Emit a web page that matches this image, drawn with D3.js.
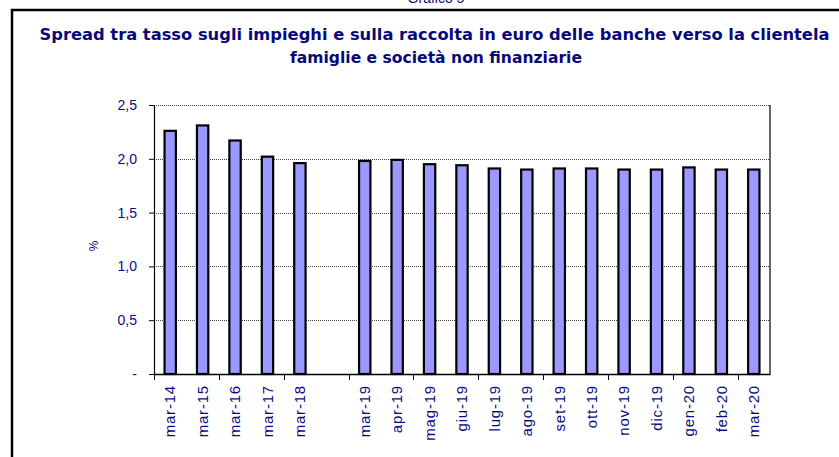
<!DOCTYPE html>
<html>
<head>
<meta charset="utf-8">
<script src="https://cdn.jsdelivr.net/npm/d3@7"></script>
<style>
  body { margin: 0; background: #fff; }
  svg { display: block; }
</style>
</head>
<body>
<svg id="chart" width="839" height="457"></svg>
<script>
// one empty slot between mar-18 and mar-19, as in the original
var categories = ['mar-14', 'mar-15', 'mar-16', 'mar-17', 'mar-18', '',
  'mar-19', 'apr-19', 'mag-19', 'giu-19', 'lug-19', 'ago-19', 'set-19',
  'ott-19', 'nov-19', 'dic-19', 'gen-20', 'feb-20', 'mar-20'];
var spread = [2.26, 2.31, 2.17, 2.02, 1.96, null,
  1.98, 1.99, 1.95, 1.94, 1.91, 1.90, 1.91,
  1.91, 1.90, 1.90, 1.92, 1.90, 1.90];
var yTicks = [0, 0.5, 1.0, 1.5, 2.0, 2.5];

var navy = '#0b0b80';
var svg = d3.select('#chart');

// outer frame
svg.append('rect')
  .attr('x', 12).attr('y', 10)
  .attr('width', 900).attr('height', 500)
  .attr('fill', 'none')
  .attr('stroke', '#000')
  .attr('stroke-width', 2.5);

svg.append('text')
  .attr('x', 436).attr('y', 3)
  .attr('text-anchor', 'middle')
  .attr('font-family', 'Liberation Sans, Arial, sans-serif')
  .attr('font-size', 14)
  .attr('fill', navy)
  .text('Grafico 5');

// title
var title = svg.append('g')
  .attr('font-family', 'DejaVu Sans, Verdana, sans-serif')
  .attr('font-weight', 'bold')
  .attr('font-size', 15)
  .attr('fill', '#08087a')
  .attr('text-anchor', 'middle');
title.append('text')
  .attr('x', 434.5).attr('y', 40)
  .attr('textLength', 790).attr('lengthAdjust', 'spacingAndGlyphs')
  .text('Spread tra tasso sugli impieghi e sulla raccolta in euro delle banche verso la clientela');
title.append('text')
  .attr('x', 436).attr('y', 63)
  .attr('textLength', 292).attr('lengthAdjust', 'spacingAndGlyphs')
  .text('famiglie e società non finanziarie');

var plotL = 154, plotR = 770, plotT = 105, plotB = 374;

var x = d3.scaleBand()
  .domain(d3.range(categories.length))
  .range([plotL, plotR])
  .padding(0);

var y = d3.scaleLinear()
  .domain([0, 2.5])
  .range([plotB, plotT]);

// dotted gridlines
svg.append('g')
  .selectAll('line')
  .data(yTicks.filter(function(d) { return d > 0; }))
  .enter()
  .append('line')
  .attr('x1', plotL).attr('x2', plotR)
  .attr('y1', function(d) { return Math.round(y(d)) + 0.5; })
  .attr('y2', function(d) { return Math.round(y(d)) + 0.5; })
  .attr('stroke', '#444')
  .attr('stroke-width', 1)
  .attr('stroke-dasharray', '1,1');

// right edge of the plot area
svg.append('line')
  .attr('x1', plotR).attr('x2', plotR)
  .attr('y1', y(2.5)).attr('y2', plotB)
  .attr('stroke', '#000')
  .attr('stroke-width', 1.2);

// bars
var bw = x.bandwidth() * 0.35;
svg.append('g')
  .selectAll('rect')
  .data(spread.map(function(v, i) { return { i: i, v: v }; })
    .filter(function(d) { return d.v != null; }))
  .enter()
  .append('rect')
  .attr('x', function(d) { return x(d.i) + (x.bandwidth() - bw) / 2; })
  .attr('y', function(d) { return y(d.v); })
  .attr('width', bw)
  .attr('height', function(d) { return plotB - y(d.v); })
  .attr('fill', '#9999ff')
  .attr('stroke', '#000')
  .attr('stroke-width', 2.2);

// y axis
var yAxis = svg.append('g')
  .attr('transform', 'translate(' + plotL + ',0)')
  .call(d3.axisLeft(y)
    .tickValues(yTicks)
    .tickSize(5)
    .tickSizeOuter(0)
    .tickPadding(12)
    .tickFormat(function(d) {
      return d === 0 ? '-' : d3.format('.1f')(d).replace('.', ',');
    }));
yAxis.select('.domain').attr('stroke', '#000').attr('stroke-width', 1.2);
yAxis.selectAll('.tick line').attr('stroke', '#000');
yAxis.selectAll('text')
  .attr('font-family', 'Liberation Sans, Arial, sans-serif')
  .attr('font-size', 14)
  .attr('fill', navy);

svg.append('text')
  .attr('transform', 'translate(98,246) rotate(-90)')
  .attr('text-anchor', 'middle')
  .attr('font-family', 'Liberation Sans, Arial, sans-serif')
  .attr('font-size', 12)
  .attr('fill', navy)
  .text('%');

// x axis: labels at the centre of each slot, ticks every two slots
var xAxis = svg.append('g')
  .attr('transform', 'translate(0,' + plotB + ')')
  .call(d3.axisBottom(x)
    .tickSize(0)
    .tickFormat(function(i) { return categories[i]; }));
xAxis.select('.domain').attr('stroke', '#000').attr('stroke-width', 1.5);
xAxis.selectAll('text')
  .attr('transform', 'rotate(-90)')
  .attr('x', -11)
  .attr('y', 0)
  .attr('dy', '0.35em')
  .attr('text-anchor', 'end')
  .attr('font-family', 'Liberation Sans, Arial, sans-serif')
  .attr('font-size', 15)
  .attr('letter-spacing', 0.8)
  .attr('fill', navy);

xAxis.selectAll('line.boundary')
  .data(d3.range(0, categories.length, 2))
  .enter()
  .append('line')
  .attr('class', 'boundary')
  .attr('x1', function(i) { return Math.round(x(i)) + 0.5; })
  .attr('x2', function(i) { return Math.round(x(i)) + 0.5; })
  .attr('y1', 0).attr('y2', 6)
  .attr('stroke', '#000');
</script>
</body>
</html>
